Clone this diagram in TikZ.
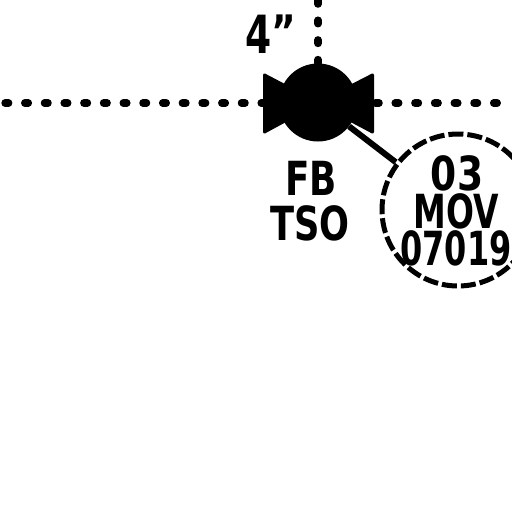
\documentclass[tikz,border=0pt]{standalone}
\usepackage{fontspec}
\setmainfont{DejaVu Sans}
\usepackage{tikz}
\usetikzlibrary{positioning}

\begin{document}
\begin{tikzpicture}[
      x=1pt, y=-1pt,
      pipe/.style={line width=7.5pt, line cap=round, dash pattern=on 3.5pt off 16.2pt},
      wing/.style={fill, draw, line width=3pt, line join=round},
      lbl/.style={font=\bfseries\fontsize{47}{47}\selectfont, inner sep=0pt, text=black, transform shape},
      tag/.style={circle, draw, line width=5pt, dash pattern=on 15pt off 4pt, minimum size=152pt, inner sep=0pt}
    ]
    \useasboundingbox (0,0) rectangle (512,512);
    \clip (0,0) rectangle (512,512);
    % valve
    \node[circle, fill=black, minimum size=78pt, inner sep=0pt] (body) at (318,102.5) {};
    \coordinate (west) at (0,103);
    \coordinate (east) at (375.5,103);
    \coordinate (stopw) at (263,103);
    \coordinate (stope) at (512,103);
    \coordinate (north) at (318,0.5);
    \draw[wing] (264.5,75) -- (318,103) -- (264.5,132) -- cycle;
    \draw[wing] (372.5,75) -- (318,103) -- (372.5,132) -- cycle;
    \draw[pipe, dash phase=14.6pt] (west) -- (stopw);
    \draw[pipe] (east) -- (stope);
    \draw[pipe] (north) -- (body);
    \node[lbl, xscale=.8, yscale=1.12] (size) at (271,34) {4\raisebox{5pt}{\scalebox{1}[.85]{"}}};
    \node[lbl, xscale=.76] (fb) at (311,178) {FB};
    \node[lbl, xscale=.75] (tso) at (310,223) {TSO};
    % tag bubble
    \node[tag] (bubble) at (458,210) {};
    \draw[line width=6pt] (body) -- (bubble);
    \node[lbl, xscale=.8] (line1) at (457,173) {03};
    \node[lbl, xscale=.7] (line2) at (456,211) {MOV};
    \node[lbl, xscale=.68] (line3) at (456,248) {07019};
  \end{tikzpicture}
\end{document}
